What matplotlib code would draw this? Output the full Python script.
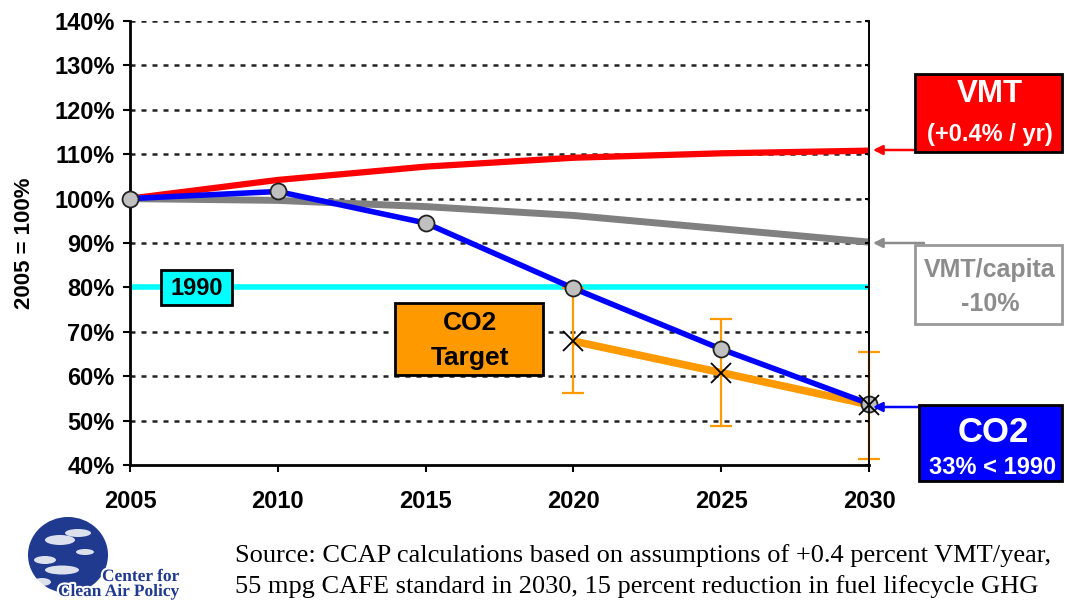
import matplotlib
matplotlib.use("Agg")
import matplotlib.pyplot as plt
import matplotlib.patheffects as pe
from matplotlib.patches import Rectangle, Ellipse

years = [2005, 2010, 2015, 2020, 2025, 2030]
vmt = [100, 104.2, 107.2, 109.2, 110.2, 110.8]
vmt_capita = [100, 99.6, 98.2, 96.2, 93.2, 90.2]
co2 = [100, 101.6, 94.5, 79.8, 66.1, 53.8]
target_years = [2020, 2025, 2030]
target = [67.9, 60.8, 53.6]
err_low = [56.3, 48.7, 41.3]
err_high = [79.8, 72.9, 65.4]
baseline_1990 = 80
yticks = [40, 50, 60, 70, 80, 90, 100, 110, 120, 130, 140]
ytick_labels = [f"{v}%" for v in yticks]

W, H = 1065, 603
plt.rcParams['font.family'] = ['Liberation Sans', 'DejaVu Sans']
fig = plt.figure(figsize=(W / 100, H / 100), dpi=100)

def fx(x):
    return x / W

def fy(y):
    return 1 - y / H

ax = fig.add_axes([fx(130), fy(465), (869 - 130) / W, (465 - 21) / H])
ax.set_xlim(2005, 2030)
ax.set_ylim(40, 140)

for v in yticks:
    if v == 40:
        continue
    ax.axhline(v, color='#222222', lw=1.8, linestyle=(0, (2.0, 2.4)), zorder=1)

ax.axhline(baseline_1990, color='#00FFFF', lw=4, zorder=2)

ax.plot(years, vmt, color='#FF0000', lw=4.5, zorder=3, solid_capstyle='butt')
ax.plot(years, vmt_capita, color='#808080', lw=5, zorder=3, solid_capstyle='butt')
ax.plot(years, co2, color='#0000FF', lw=4, zorder=4, solid_capstyle='butt')
ax.plot(target_years, target, color='#FF9900', lw=5.5, zorder=3, solid_capstyle='butt')

lo = [t - l for t, l in zip(target, err_low)]
hi = [h - t for t, h in zip(target, err_high)]
ax.errorbar(target_years, target, yerr=[lo, hi], fmt='none', ecolor='#FF9900',
            elinewidth=1.6, capsize=8, capthick=1.6, zorder=3, clip_on=False)
ax.plot(target_years, target, linestyle='none', marker='x', color='black',
        markersize=15, markeredgewidth=1.3, zorder=6, clip_on=False)
ax.plot(years, co2, linestyle='none', marker='o', markerfacecolor='#C0C0C0',
        markeredgecolor='#222222', markeredgewidth=1.3, markersize=11.5, zorder=5, clip_on=False)

ax.set_xticks(years)
ax.set_xticklabels([str(y) for y in years], fontsize=17, fontweight='bold')
ax.set_yticks(yticks)
ax.set_yticklabels(ytick_labels, fontsize=17, fontweight='bold')
ax.tick_params(axis='x', direction='out', length=5, width=1.5, pad=13)
ax.tick_params(axis='y', direction='out', length=5, width=1.5, pad=6)
for s in ['left', 'bottom']:
    ax.spines[s].set_linewidth(2)
ax.spines['top'].set_visible(False)
ax.spines['right'].set_linewidth(1.2)
ax.set_ylabel('2005 = 100%', fontsize=16, fontweight='bold', labelpad=14)

twin = ax.twinx()
twin.set_ylim(40, 140)
twin.set_yticks(yticks)
twin.tick_params(axis='y', direction='in', length=3, width=1.5, labelright=False)
for s in ['left', 'bottom', 'top']:
    twin.spines[s].set_visible(False)
twin.spines['right'].set_linewidth(1.2)

# Boxes
def box(x0, y0, x1, y1, fc, ec, lw=2):
    fig.patches.append(Rectangle((fx(x0), fy(y1)), fx(x1 - x0), (y1 - y0) / H,
                                 transform=fig.transFigure, facecolor=fc, edgecolor=ec,
                                 linewidth=lw, zorder=10))

def label(x, y, s, color, size):
    fig.text(fx(x), fy(y), s, color=color, fontsize=size, fontweight='bold',
             ha='center', va='center', zorder=11)

box(915, 74, 1062, 152, '#FF0000', 'black')
label(990, 94, 'VMT', 'white', 22.5)
label(990, 134, '(+0.4% / yr)', 'white', 17)

box(915, 245, 1062, 324, 'white', '#999999')
label(990, 270, 'VMT/capita', '#8C8C8C', 18)
label(990, 304, '-10%', '#8C8C8C', 18)

box(919, 405, 1062, 481, '#0000FF', 'black')
label(993, 432, 'CO2', 'white', 25)
label(993, 468, '33% < 1990', 'white', 17)

box(161, 270, 232, 305, '#00FFFF', 'black')
label(197, 289, '1990', 'black', 17)

box(395, 303, 543, 375, '#FF9900', 'black')
label(470, 323, 'CO2', 'black', 19)
label(470, 358, 'Target', 'black', 19)

# Arrows
def arrow(x0, y0, x1, y1, color):
    fig.add_artist(plt.Annotation('', xy=(fx(x1), fy(y1)), xytext=(fx(x0), fy(y0)),
                                  xycoords='figure fraction', textcoords='figure fraction',
                                  arrowprops=dict(arrowstyle='-|>', color=color, lw=1.8,
                                                  mutation_scale=14, shrinkA=0, shrinkB=0)))

arrow(915, 150, 873, 150, '#FF0000')
arrow(924, 243, 873, 243, '#8C8C8C')
arrow(921, 407, 873, 407, '#0000FF')

# Logo
blue = '#1F3A8F'
fig.patches.append(Ellipse((fx(68), fy(555)), 80 / W, 76 / H, transform=fig.transFigure,
                           facecolor=blue, edgecolor='none', zorder=10))
for (cx, cy, w, h) in [(60, 540, 30, 10), (78, 533, 26, 8), (45, 560, 22, 8),
                       (62, 570, 34, 9), (42, 582, 18, 8), (85, 552, 18, 6)]:
    fig.patches.append(Ellipse((fx(cx), fy(cy)), w / W, h / H, transform=fig.transFigure,
                               facecolor='white', edgecolor='none', zorder=10, alpha=0.85))
halo = [pe.withStroke(linewidth=3, foreground='white')]
fig.text(fx(102), fy(577), 'Center for', color=blue, fontsize=12.5, fontweight='bold',
         family='Liberation Serif', ha='left', va='center', zorder=11, path_effects=halo)
fig.text(fx(58), fy(592), 'Clean Air Policy', color=blue, fontsize=12.5, fontweight='bold',
         family='Liberation Serif', ha='left', va='center', zorder=11, path_effects=halo)

fig.text(fx(235), fy(562), 'Source: CCAP calculations based on assumptions of +0.4 percent VMT/year,',
         fontsize=19, family='Liberation Serif', ha='left', va='baseline')
fig.text(fx(235), fy(593), '55 mpg CAFE standard in 2030, 15 percent reduction in fuel lifecycle GHG',
         fontsize=19, family='Liberation Serif', ha='left', va='baseline')

fig.savefig('out.png', dpi=100)
